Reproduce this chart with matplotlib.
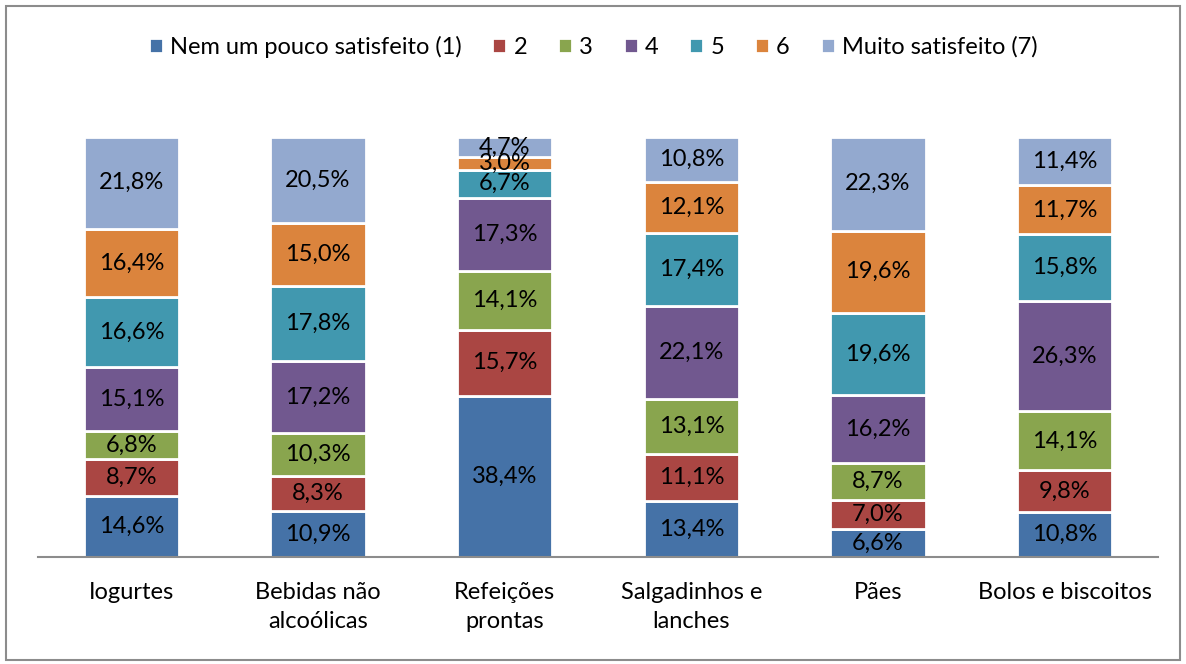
import matplotlib.pyplot as plt
from matplotlib.patches import Rectangle
import numpy as np

plt.rcParams['font.family'] = ['Lato', 'DejaVu Sans']

categorias = ['Iogurtes', 'Bebidas não\nalcoólicas', 'Refeições\nprontas',
              'Salgadinhos e\nlanches', 'Pães', 'Bolos e biscoitos']
series = ['Nem um pouco satisfeito (1)', '2', '3', '4', '5', '6', 'Muito satisfeito (7)']
cores = ['#4572A7', '#AA4643', '#89A54E', '#71588F', '#4198AF', '#DB843D', '#93A9CF']

# valores (%) por nível de satisfação
n1 = [14.6, 10.9, 38.4, 13.4, 6.6, 10.8]
n2 = [8.7, 8.3, 15.7, 11.1, 7.0, 9.8]
n3 = [6.8, 10.3, 14.1, 13.1, 8.7, 14.1]
n4 = [15.1, 17.2, 17.3, 22.1, 16.2, 26.3]
n5 = [16.6, 17.8, 6.7, 17.4, 19.6, 15.8]
n6 = [16.4, 15.0, 3.0, 12.1, 19.6, 11.7]
n7 = [21.8, 20.5, 4.7, 10.8, 22.3, 11.4]
valores = [n1, n2, n3, n4, n5, n6, n7]

fig = plt.figure(figsize=(11.86, 6.64), dpi=100)
# moldura
fig.patches.append(Rectangle((6/1186, 4/664), 1174/1186, 654/664, transform=fig.transFigure,
                             fill=False, edgecolor='#8c8c8c', linewidth=1.5))

ax = fig.add_axes([38/1186, 107/664, 1120/1186, 420/664])
x = np.arange(len(categorias))
base = np.zeros(len(categorias))
for nome, cor, v in zip(series, cores, valores):
    v = np.array(v)
    ax.bar(x, v, bottom=base, width=0.51, color=cor, edgecolor='white', linewidth=2, label=nome)
    for xi, b, vi in zip(x, base, v):
        ax.text(xi, b + vi / 2, f'{vi:.1f}%'.replace('.', ','), ha='center', va='center',
                fontsize=17, color='black')
    base += v

ax.set_xlim(-0.5, len(categorias) - 0.5)
ax.set_ylim(0, 100)
ax.set_yticks([])
ax.set_xticks(x)
ax.set_xticklabels(categorias, fontsize=17, linespacing=1.45)
ax.tick_params(axis='x', length=0, pad=18)
for s in ['top', 'right', 'left']:
    ax.spines[s].set_visible(False)
ax.spines['bottom'].set_color('#8c8c8c')
ax.spines['bottom'].set_linewidth(1.5)

fig.legend(loc='center', ncol=7, frameon=False, fontsize=17,
           handlelength=0.6, handleheight=0.6, handletextpad=0.3, columnspacing=1.3,
           bbox_to_anchor=(0.5, 1 - 47/664), bbox_transform=fig.transFigure)

fig.savefig('out.png', dpi=100)
